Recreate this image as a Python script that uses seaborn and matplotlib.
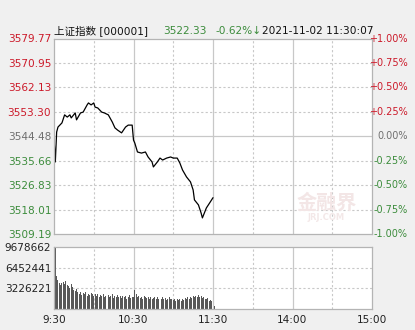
import matplotlib
matplotlib.use("Agg")
import matplotlib.pyplot as plt
import matplotlib.transforms as mtransforms
import seaborn as sns
import numpy as np
import pandas as pd

sns.set_style("white")
plt.rcParams['font.family'] = ['DejaVu Sans', 'Noto Sans CJK SC']

# ---------------- data ----------------
title_name = "上证指数 [000001]"
last_price = "3522.33"
change_pct = "-0.62%↓"
timestamp = "2021-11-02 11:30:07"

prev_close = 3544.48
price_ticks = [3509.19, 3518.01, 3526.83, 3535.66, 3544.48, 3553.30, 3562.13, 3570.95, 3579.77]
pct_ticks = ["-1.00%", "-0.75%", "-0.50%", "-0.25%", "0.00%", "+0.25%", "+0.50%", "+0.75%", "+1.00%"]

price_minutes = [0, 1, 2, 3, 6, 8, 10, 12, 13, 16, 17, 20, 22, 25, 26, 28, 30, 31, 33, 36,
                 38, 41, 44, 46, 48, 51, 54, 56, 59, 60, 61, 63, 66, 69, 71, 74, 75, 78, 80,
                 82, 85, 88, 90, 93, 95, 97, 100, 103, 105, 106, 109, 111, 112, 115, 118, 120]
price_values = [3543.9, 3535.2, 3546.0, 3547.8, 3549.3, 3552.2, 3551.4, 3552.2, 3551.1, 3552.9,
                3550.4, 3552.9, 3553.2, 3555.8, 3556.5, 3555.8, 3556.5, 3555.0, 3554.7, 3553.2,
                3552.9, 3552.2, 3549.6, 3547.5, 3546.7, 3545.7, 3547.8, 3548.5, 3548.5, 3543.1,
                3542.0, 3538.8, 3538.4, 3538.8, 3537.0, 3535.2, 3533.4, 3535.2, 3536.6, 3535.9,
                3536.6, 3537.0, 3536.6, 3536.6, 3534.8, 3532.3, 3529.8, 3528.0, 3525.1, 3521.5,
                3519.7, 3516.8, 3515.0, 3518.6, 3520.8, 3522.3]

vol_ticks = [3226221, 6452441, 9678662]
vol_millions = [9.68, 5.2, 4.6, 4.1, 3.7, 4.0, 4.2, 3.9, 4.3, 3.8,
                3.6, 3.3, 3.9, 3.4, 3.0, 2.8, 3.1, 2.6, 2.4, 2.7,
                2.2, 2.5, 2.3, 2.6, 2.1, 2.4, 2.2, 2.5, 2.3, 2.0,
                2.4, 2.1, 2.3, 1.9, 2.2, 2.0, 2.4, 1.8, 2.1, 1.9,
                2.2, 1.8, 2.0, 2.3, 1.7, 2.1, 1.9, 2.2, 1.8, 2.0,
                1.7, 2.1, 1.8, 2.0, 1.6, 1.9, 2.2, 1.7, 1.9, 1.8,
                2.9, 2.3, 1.8, 2.1, 1.7, 1.9, 1.6, 2.0, 1.8, 1.7,
                1.9, 1.6, 1.8, 1.5, 1.7, 1.9, 1.6, 1.8, 1.5, 1.7,
                1.6, 1.8, 1.5, 1.7, 1.4, 1.6, 1.8, 1.5, 1.6, 1.4,
                1.5, 1.3, 1.6, 1.4, 1.5, 1.3, 1.6, 1.4, 1.7, 1.5,
                1.8, 1.6, 1.9, 1.7, 2.0, 1.8, 2.1, 1.9, 2.2, 1.8,
                2.0, 1.7, 1.9, 1.6, 1.5, 1.7, 1.3, 1.4, 1.2, 1.1,
                0.4]
# each bar is stamped at the end of its minute
vol_minutes = list(range(1, len(vol_millions) + 1))

time_tick_pos = [0, 60, 120, 180, 240]
time_tick_labels = ["9:30", "10:30", "11:30", "14:00", "15:00"]
solid_v = [60, 120, 180]
dashed_v = [30, 90, 150, 210]

# ---------------- style ----------------
W, H = 415, 330
bg = "#f0f0f0"
grid_c = "#c8c8c8"
spine_c = "#b4b4b4"
red = "#cc1a2a"
green = "#3c8c3c"
gray = "#707070"
fs = 7.6

fig = plt.figure(figsize=(W / 100, H / 100), dpi=100, facecolor=bg)

def px_axes(l, t, r, b):
    return fig.add_axes([l / W, 1 - b / H, (r - l) / W, (b - t) / H])

ax = px_axes(54, 38.5, 372, 234)
axv = px_axes(54, 247, 372, 309)

for a in (ax, axv):
    a.set_facecolor("white")
    for s in a.spines.values():
        s.set_color(spine_c)
        s.set_linewidth(0.9)
    for v in solid_v:
        a.axvline(v, color=grid_c, lw=0.9, zorder=0)
    for v in dashed_v:
        a.axvline(v, color=grid_c, lw=0.8, ls=(0, (2, 2)), zorder=0)

# price panel
for p in price_ticks[1:-1]:
    if abs(p - prev_close) < 1e-6:
        ax.axhline(p, color=grid_c, lw=0.9, zorder=0)
    else:
        ax.axhline(p, color=grid_c, lw=0.8, ls=(0, (2, 2)), zorder=0)

df_price = pd.DataFrame({"minute": price_minutes, "price": price_values})
sns.lineplot(data=df_price, x="minute", y="price", ax=ax, color="black", lw=0.9)
ax.set_xlim(0, 240)
ax.set_ylim(price_ticks[0], price_ticks[-1])
ax.set_yticks(price_ticks)
ax.set_yticklabels([f"{p:.2f}" for p in price_ticks])
ax.set_xticks([])
ax.set_xlabel("")
ax.set_ylabel("")
ax.tick_params(axis="y", length=0, pad=2, labelsize=fs)
for lbl, p in zip(ax.get_yticklabels(), price_ticks):
    if p > prev_close + 1e-6:
        lbl.set_color(red)
    elif p < prev_close - 1e-6:
        lbl.set_color(green)
    else:
        lbl.set_color(gray)

# right-hand percentage labels, right-aligned at x = 408 px
trans = mtransforms.blended_transform_factory(fig.transFigure, ax.transData)
for p, t in zip(price_ticks, pct_ticks):
    c = red if t.startswith("+") else (green if t.startswith("-") else gray)
    ax.text(408 / W, p, t, transform=trans, ha="right", va="center",
            fontsize=7.0, color=c, clip_on=False)

# watermark (in axes fraction coordinates)
ax.text(0.857, 0.16, "金融界", transform=ax.transAxes, fontsize=14.5, fontweight="bold",
        color="#f3e6e6", ha="center", va="center", zorder=0.5)
ax.text(0.857, 0.085, "JRJ.COM", transform=ax.transAxes, fontsize=6, fontweight="bold",
        color="#f3e8e8", ha="center", va="center", zorder=0.5)

# volume panel
for v in vol_ticks[:-1]:
    axv.axhline(v, color=grid_c, lw=0.8, ls=(0, (2, 2)), zorder=0)
df_vol = pd.DataFrame({"minute": vol_minutes, "volume": [v * 1e6 for v in vol_millions]})
sns.barplot(data=df_vol, x="minute", y="volume", ax=axv, native_scale=True,
            color="#585858", saturation=1, width=0.75, errorbar=None, linewidth=0, zorder=2)
axv.set_xlim(0, 240)
axv.set_ylim(0, vol_ticks[-1])
axv.set_yticks(vol_ticks)
axv.set_yticklabels([str(v) for v in vol_ticks])
axv.set_xticks(time_tick_pos)
axv.set_xticklabels(time_tick_labels)
axv.set_xlabel("")
axv.set_ylabel("")
axv.tick_params(axis="both", length=0, labelsize=fs, colors="#222222")
axv.tick_params(axis="y", pad=2)
axv.tick_params(axis="x", pad=4.5)

# header
hy = 1 - 31 / H
fig.text(54 / W, hy, title_name, fontsize=fs, color="#111111", va="center", ha="left")
fig.text(163 / W, hy, last_price, fontsize=fs, color=green, va="center", ha="left")
fig.text(215 / W, hy, change_pct, fontsize=fs, color=green, va="center", ha="left")
fig.text(262 / W, hy, timestamp, fontsize=fs, color="#111111", va="center", ha="left")

fig.savefig("out.png", dpi=100, facecolor=bg)
